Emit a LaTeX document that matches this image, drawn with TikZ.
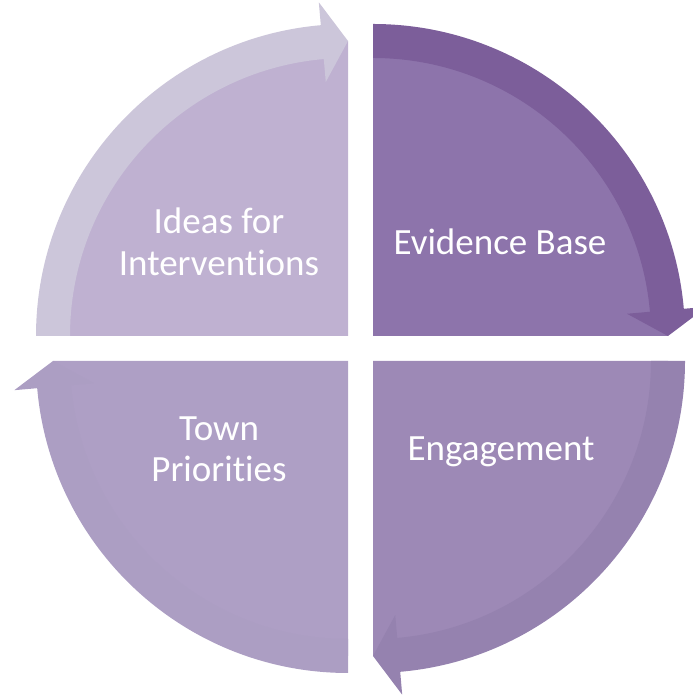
\documentclass[tikz,border=0pt]{standalone}
\usepackage{fontspec}
\setmainfont{Carlito}[Ligatures=NoCommon]
\definecolor{tlfill}{HTML}{BFB1D1}
\definecolor{tlband}{HTML}{CCC6DA}
\definecolor{trfill}{HTML}{8D74AB}
\definecolor{trband}{HTML}{7C5E9A}
\definecolor{brfill}{HTML}{9D89B6}
\definecolor{brband}{HTML}{9582AF}
\definecolor{blfill}{HTML}{AE9FC5}
\definecolor{blband}{HTML}{AC9EC3}
\tikzset{
  lbl/.style={text=white, font=\fontsize{37}{44}\selectfont, anchor=base, inner sep=0pt},
}
% #1 centre, #2 tip angle, #3 fill colour, #4 band colour
\newcommand{\quadseg}[4]{%
  \fill[#3] (#1) -- ([shift={(#1)}]#2+90:295) arc[start angle=#2+90, end angle=#2, radius=295] -- cycle;
  \fill[#4] ([shift={(#1)}]#2+90:312) arc[start angle=#2+90, end angle=#2+5, radius=312]
    -- ([shift={(#1)}]#2+5:335) -- ([shift={(#1)}]#2:295) -- ([shift={(#1)}]#2+5:255)
    -- ([shift={(#1)}]#2+5:278) arc[start angle=#2+5, end angle=#2+90, radius=278] -- cycle;
}
\begin{document}
\begin{tikzpicture}[x=1pt,y=1pt]
\useasboundingbox (0,0) rectangle (692,700);
\coordinate (tl) at (348,364);
\coordinate (tr) at (373,364);
\coordinate (br) at (373,339);
\coordinate (bl) at (348,339);
\quadseg{tl}{90}{tlfill}{tlband}
\quadseg{tr}{0}{trfill}{trband}
\quadseg{br}{-90}{brfill}{brband}
\quadseg{bl}{-180}{blfill}{blband}
\node[lbl] (ideas1) at (219,466) {Ideas for};
\node[lbl] (ideas2) at (219,424) {Interventions};
\node[lbl] (evid) at (500,445) {Evidence Base};
\node[lbl] (eng) at (501,239) {Engagement};
\node[lbl] (town1) at (219,259) {Town};
\node[lbl] (town2) at (219,218) {Priorities};
\end{tikzpicture}
\end{document}
